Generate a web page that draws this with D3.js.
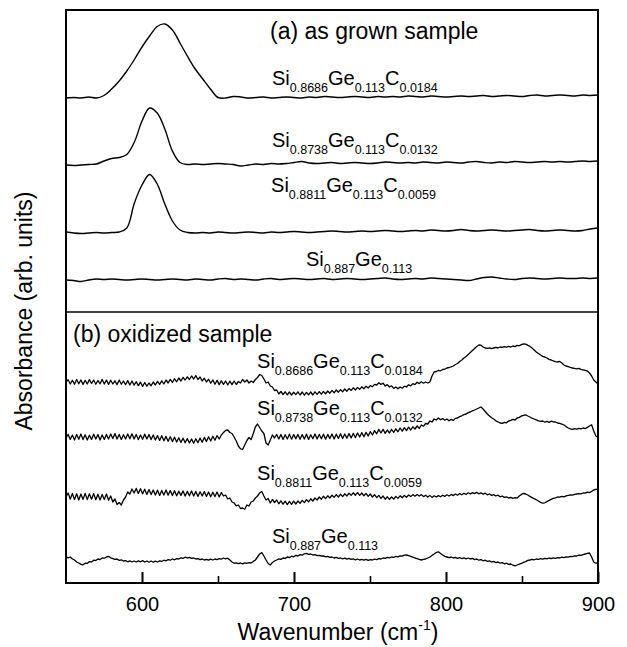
<!DOCTYPE html>
<html><head><meta charset="utf-8">
<script src="https://cdn.jsdelivr.net/npm/d3@7"></script>
<style>
body{margin:0;background:#fff}
text{font-family:"Liberation Sans",Arial,Helvetica,sans-serif;fill:#000}
</style>
</head><body>
<svg id="chart" width="627" height="647"></svg>
<script>
// ---------- data ----------
const xDomain = [550, 900];
const majorTicks = [600, 700, 800, 900];
const minorTicks = [650, 750, 850];
const gridA = d3.range(550, 901, 5);                       // wavenumbers sampled in panel (a)
const gridB = d3.range(0, 251).map(i => 550 + 1.4 * i);    // wavenumbers sampled in panel (b)

// (a) as grown sample (absorbance incl. stacking offset)
const grownC0184 = [21.4,21.45,21.4,21.5,21.4,21.65,22.3,23.1,24.1,25.25,
 26.5,27.6,28.55,28.8,28.2,26.9,25.55,24.3,23.3,22.3,
 21.45,21.4,21.55,21.5,21.4,21.45,21.5,21.4,21.45,21.5,
 21.45,21.4,21.5,21.45,21.55,21.5,21.45,21.5,21.55,21.5,
 21.45,21.55,21.5,21.55,21.5,21.6,21.55,21.5,21.6,21.55,
 21.5,21.55,21.6,21.55,21.6,21.65,21.55,21.6,21.65,21.6,
 21.55,21.65,21.7,21.6,21.65,21.7,21.65,21.6,21.7,21.65,21.7];
const grownC0132 = [14.7,14.65,14.7,14.75,14.8,15.1,15.35,15.45,15.75,17.0,
 19.1,20.4,19.9,18.3,16.1,14.95,14.75,14.8,14.75,14.8,
 14.85,14.8,14.75,14.6,14.7,14.8,14.75,14.85,14.8,14.85,
 14.95,15.05,14.9,14.85,14.9,14.95,14.85,14.9,14.95,14.9,
 14.85,14.9,15.0,14.95,14.9,14.95,14.9,15.0,14.95,14.9,
 15.0,14.95,14.9,15.0,15.05,14.95,14.9,15.0,14.95,15.05,
 15.0,14.95,15.0,15.05,15.0,15.05,15.0,15.05,15.1,15.05,15.1];
const grownC0059 = [8.0,7.9,7.85,7.9,7.95,7.9,7.95,8.0,8.4,10.9,
 12.7,13.75,12.8,10.8,9.1,8.2,7.95,7.9,7.95,7.9,
 8.0,7.95,7.9,7.95,8.0,7.95,7.9,8.0,7.95,8.0,
 8.05,8.0,7.95,8.0,8.05,8.1,8.05,8.0,8.05,8.1,
 8.05,8.1,8.15,8.1,8.05,8.1,8.15,8.1,8.2,8.15,
 8.1,8.15,8.25,8.15,8.1,8.15,8.2,8.15,8.1,8.15,
 8.2,8.25,8.15,8.1,8.15,8.2,8.15,8.1,8.15,8.3,8.4];
const grownC0 = [3.2,3.15,3.05,3.2,3.3,3.25,3.3,3.25,3.2,3.25,
 3.3,3.25,3.2,3.25,3.3,3.25,3.2,3.3,3.25,3.2,
 3.3,3.35,3.25,3.3,3.25,3.2,3.3,3.35,3.25,3.3,
 3.35,3.3,3.25,3.3,3.35,3.25,3.3,3.35,3.3,3.25,
 3.3,3.35,3.4,3.3,3.25,3.3,3.35,3.3,3.4,3.35,
 3.3,3.25,3.2,3.15,3.3,3.45,3.5,3.4,3.3,3.25,
 3.35,3.4,3.35,3.3,3.35,3.4,3.35,3.35,3.4,3.35,3.4];

// (b) oxidized sample
const oxC0184 = [
 20.1,20.32,19.9,20.28,19.88,20.35,19.92,20.3,19.86,20.26,
 19.9,20.34,19.95,20.3,19.88,20.25,19.92,20.36,19.9,20.3,
 19.86,20.28,19.9,20.22,19.84,20.3,19.88,20.2,19.82,20.24,
 19.8,20.2,19.78,20.12,19.74,20.08,19.66,20.05,19.68,20.0,
 19.72,20.1,19.8,20.16,19.86,20.22,19.9,20.3,20.0,20.36,
 20.05,20.42,20.12,20.5,20.2,20.56,20.3,20.62,20.35,20.7,
 20.4,20.74,20.35,20.6,20.2,20.48,20.1,20.38,19.98,20.3,
 19.88,20.26,19.84,20.22,19.86,20.2,19.8,20.18,19.84,20.2,
 19.85,20.15,20.0,20.35,20.1,20.3,20.0,20.2,20.05,20.35,
 20.55,20.85,20.75,20.4,20.0,20.1,19.7,19.6,19.25,19.3,
 18.9,19.15,18.85,19.12,18.82,19.1,18.8,19.08,18.84,19.12,
 18.8,19.1,18.78,19.06,18.82,19.1,18.8,19.12,18.86,19.14,
 18.88,19.16,18.92,19.2,18.98,19.26,19.02,19.3,19.08,19.34,
 19.12,19.4,19.18,19.44,19.26,19.52,19.3,19.56,19.36,19.62,
 19.42,19.68,19.5,19.74,19.62,19.86,19.8,20.02,19.86,19.98,
 19.7,19.84,19.6,19.72,19.46,19.6,19.42,19.6,19.48,19.68,
 19.6,19.82,19.72,19.94,19.84,20.08,19.94,20.12,19.98,20.1,
 20.0,20.1,20.7,21.1,21.15,21.25,21.22,21.35,21.38,21.5,
 21.55,21.62,21.7,21.85,21.95,22.15,22.3,22.5,22.65,22.85,
 23.05,23.25,23.45,23.65,23.8,23.78,23.6,23.5,23.46,23.52,
 23.44,23.5,23.56,23.5,23.6,23.56,23.64,23.58,23.66,23.6,
 23.7,23.64,23.76,23.72,23.84,23.92,23.88,23.78,23.66,23.5,
 23.3,23.1,22.95,22.8,22.66,22.6,22.5,22.36,22.3,22.2,
 22.14,22.1,22.16,22.0,21.8,21.7,21.64,21.56,21.5,21.46,
 21.42,21.46,21.36,21.32,21.26,21.2,21.0,20.7,20.3,20.1,
 19.9];
const oxC0132 = [
 14.5,14.86,14.36,14.8,14.3,14.84,14.38,14.9,14.34,14.82,
 14.3,14.78,14.36,14.88,14.4,14.84,14.3,14.8,14.36,14.86,
 14.4,14.9,14.44,14.94,14.4,14.86,14.36,14.82,14.4,14.9,
 14.42,14.92,14.4,14.86,14.34,14.8,14.38,14.88,14.4,14.84,
 14.34,14.8,14.3,14.74,14.26,14.72,14.22,14.66,14.18,14.62,
 14.14,14.58,14.1,14.52,14.06,14.48,14.02,14.44,14.0,14.4,
 13.98,14.42,14.02,14.5,14.08,14.56,14.14,14.62,14.2,14.68,
 14.28,14.74,14.4,14.8,15.05,15.25,15.3,15.05,14.95,14.6,
 14.2,13.7,13.42,13.35,13.8,14.25,14.55,14.35,14.95,15.6,
 15.9,15.55,15.2,14.95,14.0,13.8,14.3,14.8,14.5,14.85,
 14.4,14.86,14.36,14.82,14.4,14.88,14.38,14.84,14.42,14.86,
 14.38,14.84,14.4,14.88,14.36,14.82,14.42,14.9,14.4,14.86,
 14.42,14.88,14.38,14.86,14.44,14.9,14.4,14.88,14.46,14.92,
 14.44,14.9,14.48,14.94,14.5,14.96,14.54,15.0,14.6,15.04,
 14.62,15.06,14.7,15.14,14.8,15.24,14.92,15.36,15.0,15.36,
 14.96,15.3,15.0,15.36,15.06,15.42,15.12,15.5,15.18,15.54,
 15.24,15.58,15.3,15.62,15.4,15.7,15.46,15.8,15.68,15.95,
 15.9,16.2,16.1,16.4,16.3,16.5,16.32,16.44,16.28,16.4,
 16.22,16.36,16.26,16.46,16.5,16.64,16.72,16.84,16.9,17.04,
 17.1,17.22,17.3,17.4,17.5,17.6,17.4,17.15,16.9,16.7,
 16.52,16.4,16.22,16.12,16.0,15.96,16.06,16.02,16.2,16.26,
 16.36,16.3,16.5,16.56,16.7,16.76,16.82,16.7,16.6,16.48,
 16.4,16.32,16.22,16.16,16.2,16.08,16.16,16.06,16.18,16.12,
 16.1,16.0,15.96,15.88,15.8,15.64,15.5,15.42,15.36,15.44,
 15.38,15.46,15.42,15.5,15.44,15.56,15.7,15.82,15.2,14.7,
 14.55];
const oxC0059 = [
 8.62,9.0,8.38,8.96,8.34,8.92,8.3,8.9,8.36,8.96,
 8.34,8.92,8.38,8.94,8.32,8.88,8.3,8.86,8.34,8.9,
 8.28,8.7,8.1,8.4,7.85,8.05,7.8,8.3,8.6,9.1,
 8.9,9.4,9.0,9.46,8.96,9.42,8.92,9.38,8.86,9.34,
 8.84,9.3,8.8,9.28,8.76,9.26,8.8,9.3,8.78,9.24,
 8.74,9.22,8.72,9.18,8.76,9.2,8.7,9.16,8.72,9.2,
 8.7,9.16,8.66,9.12,8.7,9.14,8.66,9.1,8.62,9.08,
 8.64,9.1,8.6,9.04,8.7,8.8,8.4,8.5,8.1,8.0,
 7.72,7.8,7.45,7.5,7.38,7.8,7.7,8.1,8.2,8.5,
 8.7,9.0,9.15,8.7,8.3,8.45,8.0,8.35,8.05,8.3,
 7.92,8.22,7.88,8.18,7.84,8.16,7.86,8.18,7.9,8.2,
 7.96,8.26,8.04,8.34,8.12,8.42,8.2,8.5,8.3,8.6,
 8.38,8.68,8.44,8.72,8.5,8.78,8.56,8.84,8.6,8.88,
 8.64,8.92,8.7,8.98,8.76,9.02,8.78,9.04,8.76,9.0,
 8.72,8.96,8.66,8.9,8.6,8.84,8.54,8.76,8.46,8.7,
 8.38,8.62,8.36,8.6,8.4,8.66,8.46,8.72,8.52,8.76,
 8.58,8.8,8.64,8.84,8.68,8.86,8.7,8.84,8.64,8.78,
 8.6,8.76,8.56,8.72,8.6,8.74,8.62,8.78,8.66,8.82,
 8.7,8.86,8.74,8.9,8.78,8.94,8.82,8.98,8.86,9.02,
 8.9,9.04,8.94,9.06,8.92,9.02,8.88,8.98,8.82,8.9,
 8.76,8.84,8.7,8.78,8.62,8.7,8.56,8.62,8.5,8.56,
 8.46,8.54,8.5,8.7,8.86,8.96,8.9,8.8,8.66,8.54,
 8.44,8.32,8.2,8.06,7.98,8.02,8.14,8.26,8.36,8.46,
 8.52,8.6,8.58,8.66,8.62,8.72,8.76,8.8,8.78,8.86,
 8.9,8.94,8.92,9.0,8.98,9.08,9.04,9.16,9.3,9.36,
 9.4];
const oxC0 = [
 2.62,2.52,2.6,2.4,2.3,2.1,2.0,1.86,1.82,1.98,
 1.96,2.14,2.1,2.28,2.24,2.4,2.34,2.5,2.48,2.6,
 2.66,2.52,2.44,2.36,2.4,2.26,2.32,2.2,2.24,2.12,
 2.22,2.1,2.2,2.1,2.22,2.12,2.24,2.1,2.2,2.08,
 2.2,2.08,2.18,2.1,2.22,2.16,2.28,2.22,2.34,2.28,
 2.4,2.32,2.44,2.4,2.52,2.46,2.58,2.5,2.56,2.46,
 2.5,2.4,2.44,2.34,2.4,2.3,2.36,2.28,2.38,2.3,
 2.4,2.34,2.44,2.38,2.5,2.42,2.48,2.3,2.1,1.98,
 2.02,1.94,2.0,1.92,2.02,1.96,2.04,2.0,2.16,2.3,
 2.6,2.9,3.04,2.7,2.3,1.95,1.8,2.05,2.2,2.3,
 2.42,2.36,2.5,2.46,2.6,2.54,2.68,2.62,2.76,2.7,
 2.84,2.78,2.92,2.96,2.86,2.9,2.8,2.84,2.74,2.76,
 2.7,2.72,2.62,2.66,2.56,2.6,2.5,2.56,2.46,2.5,
 2.42,2.48,2.38,2.46,2.36,2.42,2.32,2.4,2.3,2.36,
 2.28,2.36,2.26,2.34,2.3,2.38,2.34,2.44,2.4,2.5,
 2.46,2.56,2.52,2.6,2.56,2.66,2.62,2.72,2.68,2.78,
 2.8,2.74,2.66,2.58,2.5,2.44,2.36,2.3,2.36,2.4,
 2.5,2.6,2.76,2.9,3.06,3.12,2.96,2.8,2.66,2.6,
 2.54,2.6,2.5,2.56,2.46,2.54,2.44,2.52,2.42,2.5,
 2.4,2.46,2.34,2.4,2.28,2.34,2.22,2.28,2.16,2.22,
 2.1,2.16,2.04,2.1,1.98,2.04,1.92,1.98,1.86,1.9,
 1.78,1.72,1.8,1.88,1.96,2.06,2.14,2.26,2.3,2.36,
 2.32,2.4,2.36,2.44,2.38,2.46,2.42,2.5,2.44,2.52,
 2.46,2.54,2.5,2.58,2.54,2.62,2.58,2.66,2.64,2.72,
 2.7,2.78,2.76,2.84,2.9,2.96,3.0,2.6,2.1,1.98,
 2.0];

// sample compositions [element, subscript]
const compC0184 = [["Si","0.8686"],["Ge","0.113"],["C","0.0184"]];
const compC0132 = [["Si","0.8738"],["Ge","0.113"],["C","0.0132"]];
const compC0059 = [["Si","0.8811"],["Ge","0.113"],["C","0.0059"]];
const compC0    = [["Si","0.887"],["Ge","0.113"]];

const panelTitles = ["(a) as grown sample", "(b) oxidized sample"];
const xTitle = "Wavenumber (cm";
const yTitle = "Absorbance (arb. units)";

// ---------- layout ----------
const L = 66, R = 598, T = 10, MID = 312, B = 583;
const svg = d3.select("#chart");

const x = d3.scaleLinear().domain(xDomain).range([L, R]);
const yA = d3.scaleLinear().domain([0, 30.2]).range([MID, T]);
const yB = d3.scaleLinear().domain([0, 27.1]).range([B, MID]);

svg.append("defs").append("clipPath").attr("id","clip")
  .append("rect").attr("x",L).attr("y",T).attr("width",R-L).attr("height",B-T);

const panelA = [
  {vals: grownC0184, comp: compC0184, lx: 685.5, ly: 22.7},
  {vals: grownC0132, comp: compC0132, lx: 685.5, ly: 16.55},
  {vals: grownC0059, comp: compC0059, lx: 684.9, ly: 12.0},
  {vals: grownC0,    comp: compC0,    lx: 707.9, ly: 4.6}
];
const panelB = [
  {vals: oxC0184, comp: compC0184, lx: 675.7, ly: 21.5},
  {vals: oxC0132, comp: compC0132, lx: 675.7, ly: 16.8},
  {vals: oxC0059, comp: compC0059, lx: 675.7, ly: 10.3},
  {vals: oxC0,    comp: compC0,    lx: 685.5, ly: 4.0}
];

const curves = svg.append("g").attr("clip-path","url(#clip)");
const lineA = d3.line().x((d,i)=>x(gridA[i])).y(d=>yA(d)).curve(d3.curveCatmullRom.alpha(0.5));
const lineB = d3.line().x((d,i)=>x(gridB[i])).y(d=>yB(d));

panelA.forEach(s => curves.append("path").attr("d", lineA(s.vals))
  .attr("fill","none").attr("stroke","#000").attr("stroke-width",1.4).attr("stroke-linejoin","round"));
panelB.forEach(s => curves.append("path").attr("d", lineB(s.vals))
  .attr("fill","none").attr("stroke","#000").attr("stroke-width",1.3).attr("stroke-linejoin","round"));

function formula(px, py, comp) {
  const t = svg.append("text").attr("x", px).attr("y", py).attr("font-size", 20);
  comp.forEach(([el, sub], i) => {
    t.append("tspan").text(el).attr("font-size", 20).attr("dy", i === 0 ? 0 : -7);
    t.append("tspan").text(sub).attr("font-size", 12.5).attr("dy", 7);
  });
}
panelA.forEach(s => formula(x(s.lx), yA(s.ly), s.comp));
panelB.forEach(s => formula(x(s.lx), yB(s.ly), s.comp));

svg.append("text").attr("x", x(684.2)).attr("y", yA(27.35)).attr("font-size", 23).text(panelTitles[0]);
svg.append("text").attr("x", x(554.6)).attr("y", yB(24.1)).attr("font-size", 23).text(panelTitles[1]);

// frame and divider
svg.append("rect").attr("x",L).attr("y",T).attr("width",R-L).attr("height",B-T)
  .attr("fill","none").attr("stroke","#000").attr("stroke-width",2);
svg.append("line").attr("x1",L).attr("x2",R).attr("y1",MID).attr("y2",MID)
  .attr("stroke","#000").attr("stroke-width",1.6);

// x axis
const ax = svg.append("g").attr("transform",`translate(0,${B})`)
  .call(d3.axisBottom(x).tickValues(majorTicks).tickSize(-11).tickPadding(14).tickFormat(d3.format("d")));
ax.select(".domain").remove();
ax.selectAll(".tick line").attr("stroke","#000").attr("stroke-width",2);
ax.selectAll(".tick text").attr("font-size",20).attr("font-family",'"Liberation Sans",Arial,sans-serif').attr("fill","#000");
const axm = svg.append("g").attr("transform",`translate(0,${B})`)
  .call(d3.axisBottom(x).tickValues(minorTicks).tickSize(-7).tickFormat(""));
axm.select(".domain").remove();
axm.selectAll(".tick line").attr("stroke","#000").attr("stroke-width",1.6);

// axis titles
const xt = svg.append("text").attr("x", 338).attr("y", 640).attr("text-anchor","middle").attr("font-size",23);
xt.append("tspan").text(xTitle);
xt.append("tspan").text("-1").attr("font-size",14).attr("dy",-10);
xt.append("tspan").text(")").attr("dy",10);

svg.append("text").attr("transform","translate(32,311) rotate(-90)").attr("text-anchor","middle")
  .attr("font-size",23).text(yTitle);
</script>
</body></html>
